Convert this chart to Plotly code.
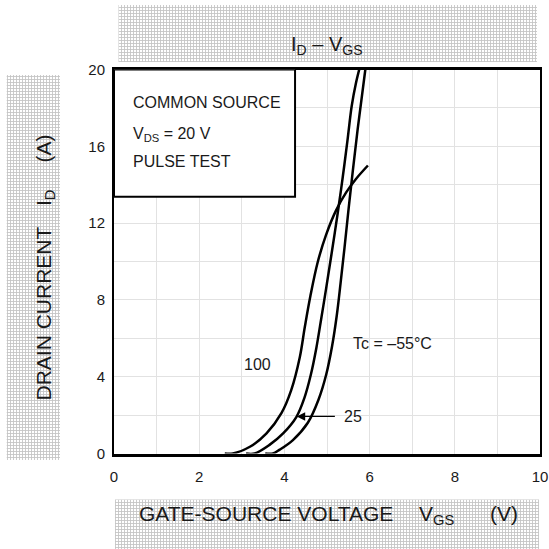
import plotly.graph_objects as go

# ---- data ----
vgs_100 = [2.60, 2.79, 3.19, 3.58, 3.93, 4.16, 4.36, 4.48, 4.61, 4.78, 4.98, 5.21, 5.45, 5.68, 5.96]
id_100 = [0.0, 0.0, 0.35, 1.05, 2.1, 3.3, 5.0, 6.6, 8.2, 9.95, 11.4, 12.65, 13.6, 14.3, 15.0]

vgs_25 = [3.10, 3.30, 3.65, 3.97, 4.28, 4.47, 4.62, 4.75, 4.87, 4.98, 5.10, 5.25, 5.37, 5.48, 5.58, 5.68, 5.78]
id_25 = [0.0, 0.0, 0.45, 1.05, 1.9, 2.9, 4.1, 5.5, 7.1, 8.6, 10.3, 12.5, 14.4, 16.3, 18.1, 19.3, 20.2]

vgs_m55 = [3.55, 3.73, 3.89, 4.20, 4.55, 4.80, 4.98, 5.12, 5.23, 5.32, 5.41, 5.50, 5.60, 5.72, 5.90]
id_m55 = [0.0, 0.0, 0.2, 0.7, 1.6, 2.8, 4.1, 5.6, 7.2, 8.9, 10.7, 12.6, 14.6, 16.9, 20.0]

x_ticks = [0, 2, 4, 6, 8, 10]
y_ticks = [0, 4, 8, 12, 16, 20]

FONT = "Arial, Liberation Sans, sans-serif"
TXT = "#1a1a1a"
W = H = 549

fig = go.Figure()

for vx, iy in [(vgs_100, id_100), (vgs_25, id_25), (vgs_m55, id_m55)]:
    fig.add_trace(go.Scatter(x=vx, y=iy, mode="lines",
                             line=dict(color="black", width=2.5, shape="spline", smoothing=1.0),
                             showlegend=False, hoverinfo="skip"))

# hatched label backgrounds, in a full-page pixel subplot
hatch_boxes = [(118.5, 537, 5, 62), (6.7, 60, 75, 460), (115, 539, 499.5, 552)]
for x0, x1, y0, y1 in hatch_boxes:
    fig.add_trace(go.Scatter(x=[x0, x1, x1, x0, x0], y=[y0, y0, y1, y1, y0],
                             xaxis="x2", yaxis="y2", mode="lines", fill="toself",
                             line=dict(width=0, color="rgba(0,0,0,0)"),
                             fillcolor="white",
                             fillpattern=dict(shape="+", size=3, solidity=0.5,
                                              fgcolor="#8a8a8a", bgcolor="white"),
                             showlegend=False, hoverinfo="skip"))

fig.update_layout(
    width=W, height=H,
    margin=dict(l=0, r=0, t=0, b=0),
    paper_bgcolor="white", plot_bgcolor="rgba(0,0,0,0)",
    font=dict(family=FONT, color=TXT, size=15),
    xaxis=dict(domain=[114 / W, 540 / W], range=[0, 10], tickvals=x_ticks,
               showgrid=True, gridcolor="#e2e2e2", gridwidth=1,
               minor=dict(dtick=1, showgrid=True, gridcolor="#e2e2e2", gridwidth=1),
               showline=True, linecolor="black", linewidth=2.5, mirror=True,
               ticks="", ticklabelstandoff=8, zeroline=False, automargin=False,
               tickfont=dict(size=15, color=TXT), anchor="y"),
    yaxis=dict(domain=[(H - 453.5) / H, (H - 69.5) / H], range=[0, 20], tickvals=y_ticks,
               showgrid=True, gridcolor="#e2e2e2", gridwidth=1,
               minor=dict(dtick=2, showgrid=True, gridcolor="#e2e2e2", gridwidth=1),
               showline=True, linecolor="black", linewidth=2, mirror=True,
               ticks="", ticklabelstandoff=4, zeroline=False, automargin=False,
               tickfont=dict(size=15, color=TXT), anchor="x"),
    xaxis2=dict(domain=[0, 1], range=[0, W], visible=False, fixedrange=True, anchor="y2"),
    yaxis2=dict(domain=[0, 1], range=[H, 0], visible=False, fixedrange=True, anchor="x2"),
)

# condition box
fig.add_shape(type="rect", xref="x", yref="y", x0=0, x1=4.25, y0=13.37, y1=20,
              fillcolor="white", line=dict(color="black", width=2), layer="above")

def ann(text, x, y, xref="x", yref="y", size=16, xanchor="center", yanchor="middle", angle=0):
    fig.add_annotation(text=text, x=x, y=y, xref=xref, yref=yref, showarrow=False,
                       xanchor=xanchor, yanchor=yanchor, textangle=angle,
                       font=dict(family=FONT, size=size, color=TXT))

ann("COMMON SOURCE", 0.41, 18.3, size=16, xanchor="left")
ann("V<sub>DS</sub> = 20 V", 0.41, 16.6, size=16, xanchor="left")
ann("PULSE TEST", 0.41, 15.2, size=16, xanchor="left")

ann("100", 3.36, 4.61, size=16)
ann("Tc = –55°C", 6.53, 5.73, size=16)
ann("25", 5.61, 1.93, size=16)
fig.add_annotation(x=4.29, y=1.93, ax=5.22, ay=1.93, xref="x", yref="y", axref="x", ayref="y",
                   text="", showarrow=True, arrowhead=2, arrowsize=1.3, arrowwidth=1.3,
                   arrowcolor="black")

# title and axis labels (page pixel coordinates)
def pann(text, px, py, size=20, xanchor="center", angle=0):
    fig.add_annotation(text=text, x=px, y=py, xref="x2", yref="y2", showarrow=False,
                       xanchor=xanchor, yanchor="middle", textangle=angle,
                       font=dict(family=FONT, size=size, color=TXT))

pann("I<sub>D</sub> – V<sub>GS</sub>", 327, 45, size=20)
pann("GATE-SOURCE VOLTAGE", 136.5, 513, size=21, xanchor="left")
pann("V<sub>GS</sub>", 417, 515, size=21, xanchor="left")
pann("(V)", 488, 513, size=21, xanchor="left")
pann("DRAIN CURRENT", 43, 313.5, size=21, angle=-90)
pann("I<sub>D</sub>", 45, 198, size=21, angle=-90)
pann("(A)", 43, 148.5, size=21, angle=-90)

fig.write_html("out.html", config={"displayModeBar": False},
               post_script="document.body.style.margin='0px';")
